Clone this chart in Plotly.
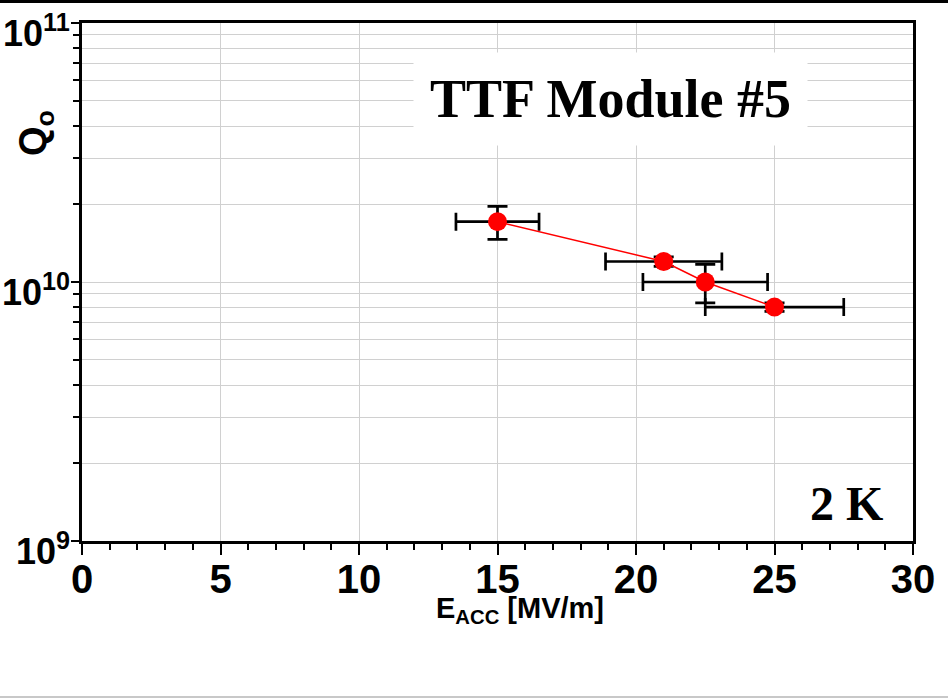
import math
import plotly.graph_objects as go

# Data
e_acc = [15.0, 21.0, 22.5, 25.0]
q0 = [1.71e10, 1.2e10, 1.0e10, 8.0e9]
e_err = [1.5, 2.1, 2.25, 2.5]
q_err = [0.25e10, 0.05e10, 0.17e10, 0.03e10]

x_ticks = [0, 5, 10, 15, 20, 25, 30]
y_tickvals = [1e9, 1e10, 1e11]
y_ticktext = ["10<sup>9</sup>", "10<sup>10</sup>", "10<sup>11</sup>"]

W, H = 948, 700
L, T = 82, 23
R = W - 913
B = H - 541
ph = H - T - B
pw = W - L - R

SANS = "Liberation Sans Narrow, Liberation Sans, Arial, sans-serif"
SERIF = "Liberation Serif, Times New Roman, serif"

# screen-pixel -> paper coordinate helpers
def px(x):
    return (x - L) / pw

def py(y):
    return 1 - (y - T) / ph

fig = go.Figure()
fig.add_trace(go.Scatter(
    x=e_acc, y=q0, mode="lines+markers",
    line=dict(color="red", width=1.5),
    marker=dict(color="red", size=19, line=dict(width=0)),
    error_x=dict(type="data", array=e_err, color="black", thickness=2.7, width=9),
    error_y=dict(type="data", array=q_err, color="black", thickness=2.7, width=10),
    showlegend=False,
))

fig.update_layout(
    width=W, height=H,
    margin=dict(l=L, r=R, t=T, b=B, autoexpand=False),
    paper_bgcolor="white", plot_bgcolor="white",
    font=dict(family=SANS, color="black"),
    xaxis=dict(
        range=[0, 30], tickvals=x_ticks, ticktext=[str(v) for v in x_ticks],
        tickfont=dict(size=40, family=SANS, weight="bold"),
        showgrid=True, gridcolor="#d0d0d0", gridwidth=1,
        showline=True, linecolor="black", linewidth=3, mirror=True,
        ticks="outside", ticklen=11, tickwidth=2, tickcolor="black",
        minor=dict(dtick=1, ticks="outside", ticklen=6, tickwidth=2, tickcolor="black", showgrid=False),
        zeroline=False, automargin=False, ticklabeloverflow="allow",
        ticklabelstandoff=-10,
    ),
    yaxis=dict(
        type="log", range=[9, 11],
        tickvals=y_tickvals, showticklabels=False,
        showgrid=True, gridcolor="#d0d0d0", gridwidth=1,
        showline=True, linecolor="black", linewidth=3, mirror=True,
        ticks="outside", ticklen=8, tickwidth=2, tickcolor="black",
        minor=dict(tickvals=[k * 10**e for e in (9, 10) for k in range(2, 10)],
                   ticks="outside", ticklen=6, tickwidth=2, tickcolor="black",
                   showgrid=True, gridcolor="#d0d0d0", gridwidth=1),
        zeroline=False, automargin=False,
    ),
    annotations=[
        dict(text="<b>TTF Module #5</b>", x=px(610), y=py(99),
             font=dict(family=SERIF, size=54, color="black"),
             bgcolor="white", borderpad=16),
        dict(text="<b>2 K</b>", x=px(846), y=py(503),
             font=dict(family=SERIF, size=48, color="black"),
             bgcolor="white"),
        dict(text="<b>Q<sub>o</sub></b>", x=px(36), y=py(133), textangle=-90,
             font=dict(family="Liberation Sans, Arial", size=38, color="black")),
        dict(text="<b>E<sub>ACC</sub> [MV/m]</b>", x=px(520), y=py(610),
             font=dict(family=SANS, size=29, color="black")),
    ],
)
fig.update_annotations(xref="paper", yref="paper", showarrow=False,
                       xanchor="center", yanchor="middle")

# y-axis tick labels (10^n), positioned on the axis scale
for v, t in zip(y_tickvals, y_ticktext):
    fig.add_annotation(text="<b>" + t + "</b>", xref="paper", yref="y",
                       x=px(72), y=math.log10(v), xanchor="right", yanchor="middle",
                       yshift=-8, showarrow=False,
                       font=dict(family=SANS, size=36, color="black"))

fig.add_shape(type="line", xref="paper", yref="paper",
              x0=px(0), x1=px(948), y0=py(1.5), y1=py(1.5),
              line=dict(color="black", width=3))
fig.add_shape(type="line", xref="paper", yref="paper",
              x0=px(0), x1=px(948), y0=py(697), y1=py(697),
              line=dict(color="#c8c8c8", width=2))

fig.write_html("out.html", config={"displayModeBar": False},
               post_script="document.body.style.margin='0';")
